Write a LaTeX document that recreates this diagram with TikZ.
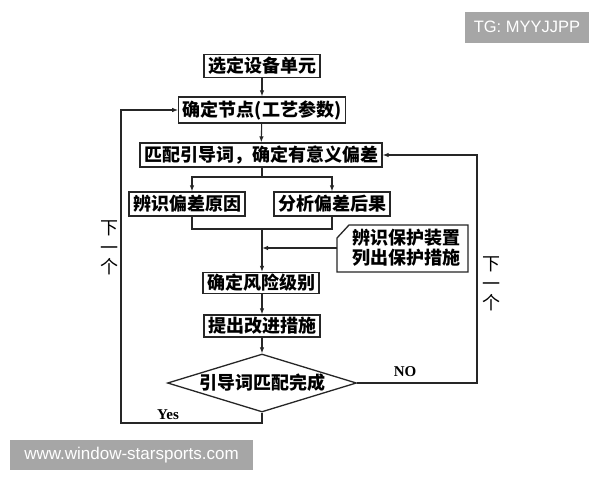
\documentclass[tikz,border=0pt]{standalone}
\usepackage{fontspec}
\newfontfamily\cjk{Noto Sans CJK SC}
\newfontfamily\wm{Liberation Sans}
\setmainfont{Liberation Serif}
\usetikzlibrary{arrows.meta,shapes.geometric}
\tikzset{
  box/.style={draw=black!85, line width=1.3pt, inner xsep=4pt, inner ysep=0pt, minimum height=23pt, font=\cjk\bfseries\fontsize{18pt}{20pt}\selectfont},
  ln/.style={draw=black!85, line width=1.1pt},
  arr/.style={ln, -{Latex[length=6pt,width=4.5pt]}},
  lbl/.style={font=\bfseries\fontsize{15pt}{17pt}\selectfont},
  vlbl/.style={align=center, font=\cjk\fontsize{18pt}{19.5pt}\selectfont, inner sep=0pt},
  wmbox/.style={fill=black!35, text=white, inner sep=0pt}
}
\begin{document}
\begin{tikzpicture}[x=1pt,y=-1pt]
\useasboundingbox (0,0) rectangle (600,480);
\fill[white] (0,0) rectangle (600,480);
% watermarks
\node[wmbox, minimum width=124pt, minimum height=31pt, font=\wm\fontsize{16.5pt}{18pt}\selectfont] (tg) at (527,27) {TG: MYYJJPP};
\node[wmbox, minimum width=243pt, minimum height=30pt, font=\wm\fontsize{17pt}{19pt}\selectfont] (www) at (131.5,455) {www.window-starsports.com};
% boxes
\node[box] (b1) at (262,66) {选定设备单元};
\node[box, minimum height=26pt] (b2) at (262,110) {确定节点(工艺参数)};
\node[box, minimum height=24pt] (b3) at (261,155) {匹配引导词，确定有意义偏差};
\node[box, minimum height=24pt] (b4) at (187,204) {辨识偏差原因};
\node[box, minimum height=24pt] (b5) at (332,204) {分析偏差后果};
\node[box, minimum height=21pt] (b7) at (261,283) {确定风险级别};
\node[box, minimum height=22pt] (b8) at (262,326) {提出改进措施};
\node[draw=black!85, line width=1.3pt, shape=diamond, minimum width=189pt, minimum height=58pt, inner sep=0pt, shape aspect=3.2, font=\cjk\bfseries\fontsize{18pt}{20pt}\selectfont] (dia) at (262,383) {引导词匹配完成};
% notched box
\node[align=center, inner sep=0pt, font=\cjk\bfseries\fontsize{18pt}{20pt}\selectfont] (b6) at (406,248) {辨识保护装置\\列出保护措施};
\coordinate (n1) at (349,225);
\coordinate (n2) at (468,225);
\coordinate (n3) at (468,272);
\coordinate (n4) at (337,272);
\coordinate (n5) at (337,238);
\draw[ln, line width=1.3pt] (n1) -- (n2) -- (n3) -- (n4) -- (n5) -- cycle;
\coordinate (b6l) at (337,248);
% coordinates
\coordinate (split) at (262,177);
\coordinate (merge) at (262,229);
\coordinate (yl) at (121,423);
\coordinate (nr) at (477,300);
% connectors
\draw[arr] (b1) -- (b2);
\draw[arr] (b2) -- (b3);
\draw[ln] (b3.south -| split) -- (split);
\draw[arr] (split) -| ([xshift=5pt]b4.north);
\draw[arr] (split) -| (b5.north);
\draw[ln] ([xshift=5pt]b4.south) |- (merge) -| (b5.south);
\draw[arr] (merge) -- (b7.north -| merge);
\draw[arr] (b6l) -- (b6l -| merge);
\draw[arr] (b7.south -| merge) -- (b8.north -| merge);
\draw[arr] (b8.south -| merge) -- (dia.north);
\draw[arr] (dia.south) |- (yl) |- (b2.west);
\draw[arr] (dia.east) -- (dia.east -| nr) |- (b3.east);
% labels
\node[lbl] (yes) at (168,415) {Yes};
\node[lbl] (no) at (405,372) {NO};
\node[vlbl] (lnext) at (109,248) {下\\一\\个};
\node[vlbl] (rnext) at (491,284) {下\\一\\个};
\end{tikzpicture}
\end{document}
